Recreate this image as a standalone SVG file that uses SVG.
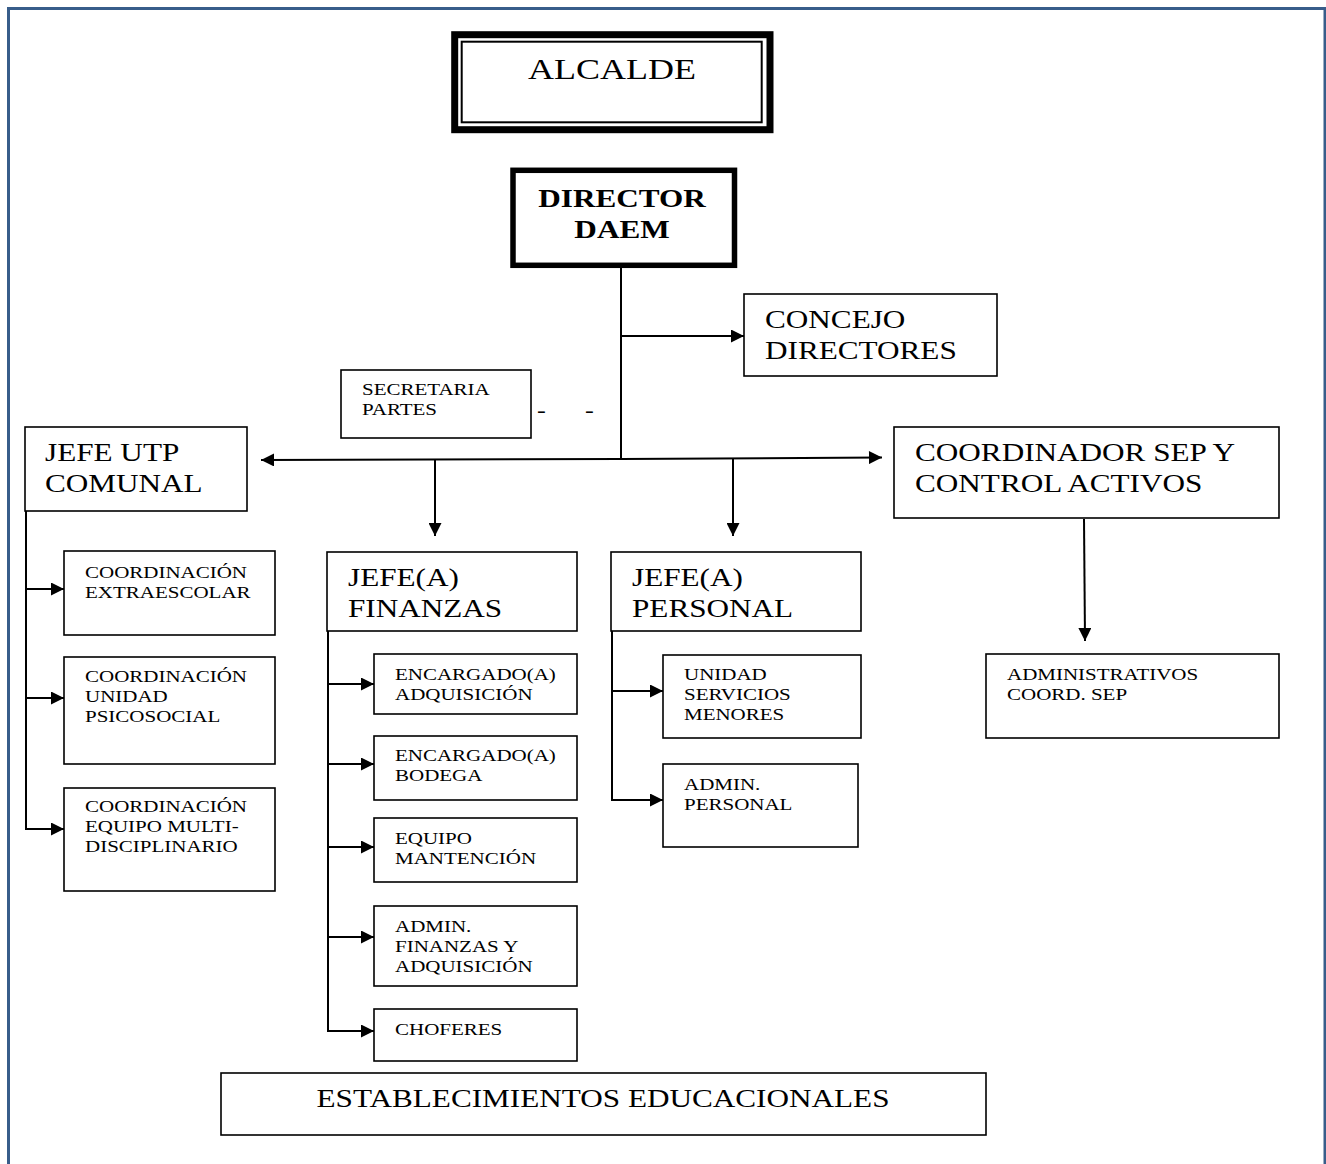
<svg xmlns="http://www.w3.org/2000/svg" width="1326" height="1164" viewBox="0 0 1326 1164">
<defs>
<style>
.bx{fill:#fff;stroke:#000;stroke-width:1.6}
.ln{fill:none;stroke:#000;stroke-width:2}
.t{font-family:"Liberation Serif","Times New Roman",serif;fill:#000}
.L{font-size:26px}
.S{font-size:17.5px}
.B{font-size:26px;font-weight:bold}
.A{font-size:30px}
.D{font-size:22px}
</style>
<marker id="ah" viewBox="0 0 10 10" refX="10" refY="5" markerUnits="userSpaceOnUse" markerWidth="15" markerHeight="13" orient="auto">
<path d="M0,0 L10,5 L0,10 Z" fill="#000"/>
</marker>
</defs>
<rect width="1326" height="1164" fill="#fff"/>
<path d="M8.5,1164 V8.5 H1325 V1164" fill="none" stroke="#385D8A" stroke-width="3"/>

<g id="connectors">
<line class="ln" x1="621" y1="268" x2="621" y2="459"/>
<line class="ln" x1="621" y1="336" x2="744" y2="336" marker-end="url(#ah)"/>
<line class="ln" x1="621" y1="459" x2="261" y2="460" marker-end="url(#ah)"/>
<line class="ln" x1="621" y1="459" x2="882" y2="457.5" marker-end="url(#ah)"/>
<line class="ln" x1="435" y1="460" x2="435" y2="536" marker-end="url(#ah)"/>
<line class="ln" x1="733" y1="458" x2="733" y2="536" marker-end="url(#ah)"/>
<line class="ln" x1="1084" y1="519" x2="1085" y2="641" marker-end="url(#ah)"/>
<line class="ln" x1="26" y1="511" x2="26" y2="829"/>
<line class="ln" x1="25" y1="589" x2="64" y2="589" marker-end="url(#ah)"/>
<line class="ln" x1="25" y1="698" x2="64" y2="698" marker-end="url(#ah)"/>
<line class="ln" x1="25" y1="829" x2="64" y2="829" marker-end="url(#ah)"/>
<line class="ln" x1="328" y1="631" x2="328" y2="1031"/>
<line class="ln" x1="327" y1="684" x2="374" y2="684" marker-end="url(#ah)"/>
<line class="ln" x1="327" y1="764" x2="374" y2="764" marker-end="url(#ah)"/>
<line class="ln" x1="327" y1="847" x2="374" y2="847" marker-end="url(#ah)"/>
<line class="ln" x1="327" y1="937" x2="374" y2="937" marker-end="url(#ah)"/>
<line class="ln" x1="327" y1="1031" x2="374" y2="1031" marker-end="url(#ah)"/>
<line class="ln" x1="612" y1="631" x2="612" y2="800"/>
<line class="ln" x1="611" y1="691" x2="663" y2="691" marker-end="url(#ah)"/>
<line class="ln" x1="611" y1="800" x2="663" y2="800" marker-end="url(#ah)"/>
</g>

<g id="alcalde">
<rect x="454.7" y="34.7" width="315.3" height="95" fill="#fff" stroke="#000" stroke-width="7"/>
<rect x="461.7" y="41.7" width="300" height="80.6" fill="none" stroke="#000" stroke-width="2"/>
<text class="t A" text-anchor="middle" transform="matrix(1.2 0 0 1 612 79)">ALCALDE</text>
</g>

<g id="director">
<rect x="513" y="170.3" width="221.5" height="95" fill="#fff" stroke="#000" stroke-width="5.5"/>
<text class="t B" text-anchor="middle" transform="matrix(1.2 0 0 1 622 207)"><tspan x="0" y="0">DIRECTOR</tspan><tspan x="0" y="31">DAEM</tspan></text>
</g>

<g id="concejo">
<rect class="bx" x="744" y="294" width="253" height="82"/>
<text class="t L" transform="matrix(1.2 0 0 1 765 328)"><tspan x="0" y="0">CONCEJO</tspan><tspan x="0" y="31">DIRECTORES</tspan></text>
</g>

<g id="secretaria">
<rect class="bx" x="341" y="370" width="190" height="68"/>
<text class="t S" transform="matrix(1.2 0 0 1 362 395)"><tspan x="0" y="0">SECRETARIA</tspan><tspan x="0" y="20">PARTES</tspan></text>
<text class="t D" transform="matrix(1.2 0 0 1 537 417)">-</text>
<text class="t D" transform="matrix(1.2 0 0 1 585 417)">-</text>
</g>

<g id="jefe-utp">
<rect class="bx" x="25" y="427" width="222" height="84"/>
<text class="t L" transform="matrix(1.2 0 0 1 45 461)"><tspan x="0" y="0">JEFE UTP</tspan><tspan x="0" y="31">COMUNAL</tspan></text>
</g>

<g id="coordinador-sep">
<rect class="bx" x="894" y="427" width="385" height="91"/>
<text class="t L" transform="matrix(1.2 0 0 1 915 461)"><tspan x="0" y="0">COORDINADOR SEP Y</tspan><tspan x="0" y="31">CONTROL ACTIVOS</tspan></text>
</g>

<g id="coord-extraescolar">
<rect class="bx" x="64" y="551" width="211" height="84"/>
<text class="t S" transform="matrix(1.2 0 0 1 85 578)"><tspan x="0" y="0">COORDINACIÓN</tspan><tspan x="0" y="20">EXTRAESCOLAR</tspan></text>
</g>

<g id="coord-psicosocial">
<rect class="bx" x="64" y="657" width="211" height="107"/>
<text class="t S" transform="matrix(1.2 0 0 1 85 682)"><tspan x="0" y="0">COORDINACIÓN</tspan><tspan x="0" y="20">UNIDAD</tspan><tspan x="0" y="40">PSICOSOCIAL</tspan></text>
</g>

<g id="coord-multidisciplinario">
<rect class="bx" x="64" y="788" width="211" height="103"/>
<text class="t S" transform="matrix(1.2 0 0 1 85 812)"><tspan x="0" y="0">COORDINACIÓN</tspan><tspan x="0" y="20">EQUIPO MULTI-</tspan><tspan x="0" y="40">DISCIPLINARIO</tspan></text>
</g>

<g id="jefe-finanzas">
<rect class="bx" x="327" y="552" width="250" height="79"/>
<text class="t L" transform="matrix(1.2 0 0 1 348 586)"><tspan x="0" y="0">JEFE(A)</tspan><tspan x="0" y="31">FINANZAS</tspan></text>
</g>

<g id="encargado-adquisicion">
<rect class="bx" x="374" y="654" width="203" height="60"/>
<text class="t S" transform="matrix(1.2 0 0 1 395 680)"><tspan x="0" y="0">ENCARGADO(A)</tspan><tspan x="0" y="20">ADQUISICIÓN</tspan></text>
</g>

<g id="encargado-bodega">
<rect class="bx" x="374" y="736" width="203" height="64"/>
<text class="t S" transform="matrix(1.2 0 0 1 395 761)"><tspan x="0" y="0">ENCARGADO(A)</tspan><tspan x="0" y="20">BODEGA</tspan></text>
</g>

<g id="equipo-mantencion">
<rect class="bx" x="374" y="818" width="203" height="64"/>
<text class="t S" transform="matrix(1.2 0 0 1 395 844)"><tspan x="0" y="0">EQUIPO</tspan><tspan x="0" y="20">MANTENCIÓN</tspan></text>
</g>

<g id="admin-finanzas">
<rect class="bx" x="374" y="906" width="203" height="80"/>
<text class="t S" transform="matrix(1.2 0 0 1 395 932)"><tspan x="0" y="0">ADMIN.</tspan><tspan x="0" y="20">FINANZAS Y</tspan><tspan x="0" y="40">ADQUISICIÓN</tspan></text>
</g>

<g id="choferes">
<rect class="bx" x="374" y="1009" width="203" height="52"/>
<text class="t S" transform="matrix(1.2 0 0 1 395 1035)">CHOFERES</text>
</g>

<g id="jefe-personal">
<rect class="bx" x="611" y="552" width="250" height="79"/>
<text class="t L" transform="matrix(1.2 0 0 1 632 586)"><tspan x="0" y="0">JEFE(A)</tspan><tspan x="0" y="31">PERSONAL</tspan></text>
</g>

<g id="servicios-menores">
<rect class="bx" x="663" y="655" width="198" height="83"/>
<text class="t S" transform="matrix(1.2 0 0 1 684 680)"><tspan x="0" y="0">UNIDAD</tspan><tspan x="0" y="20">SERVICIOS</tspan><tspan x="0" y="40">MENORES</tspan></text>
</g>

<g id="admin-personal">
<rect class="bx" x="663" y="764" width="195" height="83"/>
<text class="t S" transform="matrix(1.2 0 0 1 684 790)"><tspan x="0" y="0">ADMIN.</tspan><tspan x="0" y="20">PERSONAL</tspan></text>
</g>

<g id="administrativos-sep">
<rect class="bx" x="986" y="654" width="293" height="84"/>
<text class="t S" transform="matrix(1.2 0 0 1 1007 680)"><tspan x="0" y="0">ADMINISTRATIVOS</tspan><tspan x="0" y="20">COORD. SEP</tspan></text>
</g>

<g id="establecimientos">
<rect class="bx" x="221" y="1073" width="765" height="62"/>
<text class="t L" text-anchor="middle" transform="matrix(1.2 0 0 1 603 1107)">ESTABLECIMIENTOS EDUCACIONALES</text>
</g>
</svg>
